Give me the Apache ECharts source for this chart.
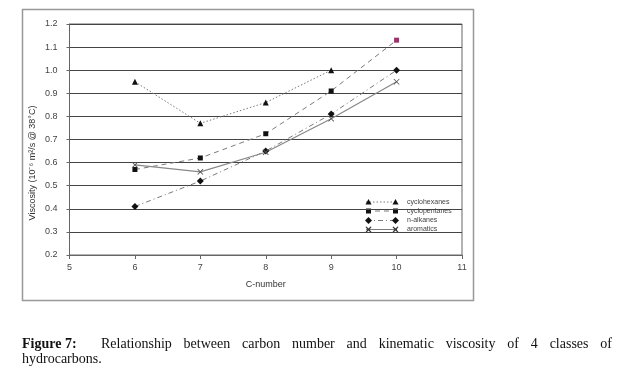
<!DOCTYPE html>
<html>
<head>
<meta charset="utf-8">
<script src="https://cdn.jsdelivr.net/npm/echarts@6/dist/echarts.min.js"></script>
<style>
html,body{margin:0;padding:0;background:#fff;}
#chart{width:640px;height:367px;}
</style>
</head>
<body>
<div id="chart"></div>
<script>
// C-number on x, viscosity (10^-6 m2/s @ 38C) on y
var carbonNumbers = [6, 7, 8, 9, 10];
var cyclohexanes  = [0.95, 0.77, 0.86, 1.00, null];
var cyclopentanes = [0.57, 0.62, 0.725, 0.91, 1.13];
var nAlkanes      = [0.41, 0.52, 0.65, 0.81, 1.00];
var aromatics     = [0.59, 0.56, 0.645, 0.79, 0.95];
var seriesNames   = ['cyclohexanes', 'cyclopentanes', 'n-alkanes', 'aromatics'];
var xTicks = [5, 6, 7, 8, 9, 10, 11];

var captionLine1 = ['Relationship', 'between', 'carbon', 'number', 'and', 'kinematic', 'viscosity', 'of', '4', 'classes', 'of'];
var captionLine2 = 'hydrocarbons.';

function pairs(vals){
    var out = [];
    for (var i = 0; i < carbonNumbers.length; i++){
        if (vals[i] != null) out.push([carbonNumbers[i], vals[i]]);
    }
    return out;
}

var crossPath = 'path://M0,1L1,0L5,4L9,0L10,1L6,5L10,9L9,10L5,6L1,10L0,9L4,5Z';
var lineCol = '#7a7a7a';
var mk = '#111';

var pentData = pairs(cyclopentanes);
pentData[4] = {value: pentData[4], itemStyle: {color: '#a0306e'}};  //last point is pinkish in the source

var myChart = echarts.init(document.getElementById('chart'));

// caption, justified like the paper
var cv = document.createElement('canvas').getContext('2d');
cv.font = '14px "Liberation Serif"';
var x0 = 101, x1 = 612, total = 0;
for (var i = 0; i < captionLine1.length; i++) total += cv.measureText(captionLine1[i]).width;
var gap = (x1 - x0 - total) / (captionLine1.length - 1);
var capTexts = [{
    type: 'text', left: 22, top: 337,
    style: {text: 'Figure 7:', font: 'bold 14px "Liberation Serif"', fill: '#111'}
}];
var cx = x0;
for (var i = 0; i < captionLine1.length; i++){
    capTexts.push({type: 'text', x: cx, y: 337,
        style: {text: captionLine1[i], font: '14px "Liberation Serif"', fill: '#111', verticalAlign: 'top'}});
    cx += cv.measureText(captionLine1[i]).width + gap;
}
capTexts.push({type: 'text', x: 22, y: 352,
    style: {text: captionLine2, font: '14px "Liberation Serif"', fill: '#111', verticalAlign: 'top'}});

// legend drawn by hand: line with a marker at each end
var legRows = [202, 211, 220.5, 229.5];
var legDash = [[1.5, 2], [5, 4], [5, 3, 1, 3], null];
var legend = [];
for (var r = 0; r < 4; r++){
    var yy = legRows[r];
    legend.push({type: 'line', shape: {x1: 366, y1: yy, x2: 397, y2: yy},
        style: {stroke: lineCol, lineWidth: 1, lineDash: legDash[r]}});
    [368.5, 395.5].forEach(function (mx){
        if (r == 0) legend.push({type: 'polygon', shape: {points: [[mx, yy - 3], [mx - 3, yy + 2.5], [mx + 3, yy + 2.5]]}, style: {fill: mk}});
        if (r == 1) legend.push({type: 'rect', shape: {x: mx - 2.5, y: yy - 2.5, width: 5, height: 5}, style: {fill: mk}});
        if (r == 2) legend.push({type: 'polygon', shape: {points: [[mx, yy - 3.5], [mx + 3.5, yy], [mx, yy + 3.5], [mx - 3.5, yy]]}, style: {fill: mk}});
        if (r == 3) legend.push({type: 'polygon', shape: {points: [[mx - 3, yy - 2.5], [mx - 2, yy - 3], [mx, yy - 1], [mx + 2, yy - 3], [mx + 3, yy - 2.5], [mx + 1, yy], [mx + 3, yy + 2.5], [mx + 2, yy + 3], [mx, yy + 1], [mx - 2, yy + 3], [mx - 3, yy + 2.5], [mx - 1, yy]]}, style: {fill: '#333'}});
    });
    legend.push({type: 'text', x: 407, y: yy,
        style: {text: seriesNames[r], font: '7px "Liberation Sans"', fill: '#444', verticalAlign: 'middle'}});
}

var option = {
    animation: false,
    backgroundColor: '#fff',
    grid: {left: 69.5, top: 24, right: 178, bottom: 112, show: true, borderColor: '#666', borderWidth: 1, backgroundColor: '#fff'},
    xAxis: {
        type: 'value', min: 5, max: 11, interval: 1,
        name: 'C-number', nameLocation: 'middle', nameGap: 25,
        nameTextStyle: {fontFamily: 'Liberation Sans', fontSize: 9, color: '#333'},
        axisLine: {lineStyle: {color: '#666'}},
        axisTick: {show: true, length: 4, lineStyle: {color: '#666'}},
        axisLabel: {fontFamily: 'Liberation Sans', fontSize: 9, color: '#444', margin: 8},
        splitLine: {show: false}
    },
    yAxis: {
        type: 'value', min: 0.2, max: 1.2, interval: 0.1,
        axisLine: {show: true, lineStyle: {color: '#666'}},
        axisTick: {show: true, length: 3, lineStyle: {color: '#666'}},
        axisLabel: {fontFamily: 'Liberation Sans', fontSize: 9, color: '#444', margin: 12,
            formatter: function (v){ return v.toFixed(1); }},
        splitLine: {show: true, lineStyle: {color: '#444', width: 1}}
    },
    series: [
        {name: seriesNames[0], type: 'line', data: pairs(cyclohexanes), symbol: 'triangle', symbolSize: 6,
            itemStyle: {color: mk}, lineStyle: {color: lineCol, width: 1, type: [1.5, 2]}},
        {name: seriesNames[1], type: 'line', data: pentData, symbol: 'rect', symbolSize: 5,
            itemStyle: {color: mk}, lineStyle: {color: lineCol, width: 1, type: [5, 4]}},
        {name: seriesNames[2], type: 'line', data: pairs(nAlkanes), symbol: 'diamond', symbolSize: 7,
            itemStyle: {color: mk}, lineStyle: {color: lineCol, width: 1, type: [5, 3, 1, 3]}},
        {name: seriesNames[3], type: 'line', data: pairs(aromatics), symbol: crossPath, symbolSize: 6,
            itemStyle: {color: '#555'}, lineStyle: {color: '#888', width: 1.2, type: 'solid'}}
    ],
    graphic: [
        {type: 'rect', shape: {x: 22.5, y: 9.5, width: 451, height: 291}, z: -10,
            style: {fill: 'none', stroke: '#999', lineWidth: 1.5}},
        {type: 'text', x: 33, y: 163, rotation: Math.PI / 2,
            style: {text: 'Viscosity (10\u207B\u2076 m\u00B2/s @ 38\u00B0C)', font: '9px "Liberation Sans"', fill: '#333',
                align: 'center', verticalAlign: 'middle'}}
    ].concat(legend, capTexts)
};
myChart.setOption(option);
</script>
</body>
</html>
